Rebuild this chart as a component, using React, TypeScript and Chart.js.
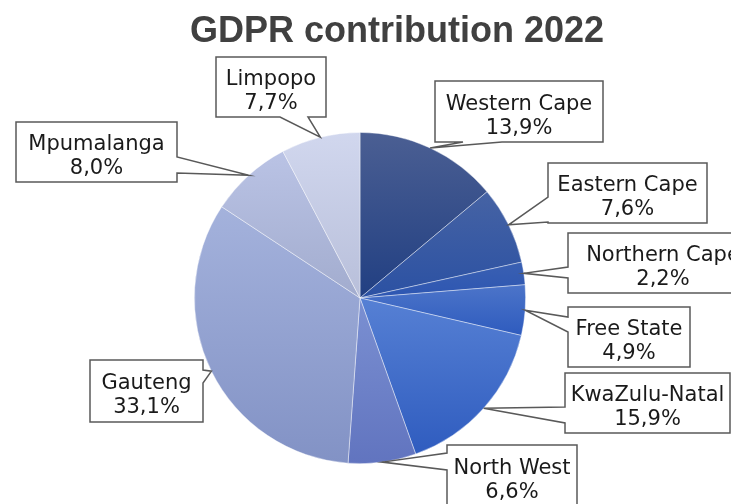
import React, { useEffect, useRef } from "react";
import { Chart, registerables } from "chart.js";

Chart.register(...registerables);

const TITLE = "GDPR contribution 2022";
const REGIONS = [
  "Western Cape",
  "Eastern Cape",
  "Northern Cape",
  "Free State",
  "KwaZulu-Natal",
  "North West",
  "Gauteng",
  "Mpumalanga",
  "Limpopo",
];
const SHARES = [13.9, 7.6, 2.2, 4.9, 15.9, 6.6, 33.1, 8.0, 7.7];

// gradient colours (top, bottom) per slice
const COLORS_TOP = ["#4b5f93", "#4663a4", "#3a60b2", "#4c74c9", "#5680d4", "#7b90d2", "#a4b2dc", "#bac3e5", "#d1d7ee"];
const COLORS_BOTTOM = ["#213f82", "#2b51a3", "#2d56b2", "#2e5bbe", "#2f5cbf", "#6174bf", "#8292c5", "#a2acce", "#b8bfda"];

// callout boxes (page pixels) and which side the pointer leaves from
type Box = { x: number; y: number; w: number; h: number; side: "left" | "right" | "bottom"; a: number; b: number };
const LABEL_BOXES: Box[] = [
  { x: 435, y: 81, w: 168, h: 61, side: "bottom", a: 463, b: 502 },
  { x: 548, y: 163, w: 159, h: 60, side: "left", a: 197, b: 222 },
  { x: 568, y: 233, w: 190, h: 60, side: "left", a: 267, b: 278 },
  { x: 568, y: 307, w: 122, h: 60, side: "left", a: 317, b: 332 },
  { x: 565, y: 373, w: 165, h: 60, side: "left", a: 407, b: 423 },
  { x: 447, y: 445, w: 130, h: 62, side: "left", a: 453, b: 470 },
  { x: 90, y: 360, w: 113, h: 62, side: "right", a: 370, b: 383 },
  { x: 16, y: 122, w: 161, h: 60, side: "right", a: 157, b: 173 },
  { x: 216, y: 57, w: 110, h: 60, side: "bottom", a: 280, b: 308 },
];

const LABEL_FONT = '21px "DejaVu Sans"';
const TITLE_FONT = 'bold 36px "Liberation Sans"';

function sliceGradient(chart: any, index: number) {
  const area = chart.chartArea;
  if (!area) return COLORS_TOP[index];
  const cx = (area.left + area.right) / 2;
  const cy = (area.top + area.bottom) / 2;
  const r = Math.min(area.right - area.left, area.bottom - area.top) / 2;
  const total = SHARES.reduce((s, v) => s + v, 0);
  let cum = 0;
  for (let i = 0; i < index; i++) cum += SHARES[i];
  const a0 = (cum / total) * Math.PI * 2 - Math.PI / 2;
  const a1 = ((cum + SHARES[index]) / total) * Math.PI * 2 - Math.PI / 2;
  const ys = [cy, cy + r * Math.sin(a0), cy + r * Math.sin(a1)];
  for (const k of [-Math.PI / 2, Math.PI / 2, (3 * Math.PI) / 2]) {
    if (k > a0 && k < a1) ys.push(cy + r * Math.sin(k));
  }
  const y0 = Math.min(...ys);
  const y1 = Math.max(...ys);
  const g = chart.ctx.createLinearGradient(0, y0, 0, Math.max(y1, y0 + 1));
  g.addColorStop(0, COLORS_TOP[index]);
  g.addColorStop(1, COLORS_BOTTOM[index]);
  return g;
}

const calloutPlugin = {
  id: "callouts",
  afterDraw(chart: any) {
    const ctx = chart.ctx as CanvasRenderingContext2D;
    const meta = chart.getDatasetMeta(0);
    ctx.save();
    // title
    ctx.font = TITLE_FONT;
    ctx.fillStyle = "#404040";
    ctx.textAlign = "center";
    ctx.textBaseline = "alphabetic";
    ctx.fillText(TITLE, 397, 42);

    meta.data.forEach((arc: any, i: number) => {
      const box = LABEL_BOXES[i];
      if (!box) return;
      const mid = (arc.startAngle + arc.endAngle) / 2;
      const tx = arc.x + Math.cos(mid) * arc.outerRadius;
      const ty = arc.y + Math.sin(mid) * arc.outerRadius;
      const { x, y, w, h, side, a, b } = box;
      ctx.beginPath();
      ctx.moveTo(x, y);
      ctx.lineTo(x + w, y);
      if (side === "right") {
        ctx.lineTo(x + w, a);
        ctx.lineTo(tx, ty);
        ctx.lineTo(x + w, b);
      }
      ctx.lineTo(x + w, y + h);
      if (side === "bottom") {
        ctx.lineTo(b, y + h);
        ctx.lineTo(tx, ty);
        ctx.lineTo(a, y + h);
      }
      ctx.lineTo(x, y + h);
      if (side === "left") {
        ctx.lineTo(x, b);
        ctx.lineTo(tx, ty);
        ctx.lineTo(x, a);
      }
      ctx.closePath();
      ctx.fillStyle = "#ffffff";
      ctx.fill();
      ctx.lineWidth = 1.5;
      ctx.strokeStyle = "#595959";
      ctx.lineJoin = "miter";
      ctx.stroke();

      ctx.font = LABEL_FONT;
      ctx.fillStyle = "#1a1a1a";
      ctx.textAlign = "center";
      ctx.textBaseline = "alphabetic";
      const cxBox = x + w / 2;
      const cyBox = y + h / 2;
      ctx.fillText(REGIONS[i], cxBox, cyBox - 2);
      ctx.fillText(SHARES[i].toFixed(1).replace(".", ",") + "%", cxBox, cyBox + 22);
    });
    ctx.restore();
  },
};

export default function App() {
  const ref = useRef<HTMLCanvasElement | null>(null);
  useEffect(() => {
    if (!ref.current) return;
    const chart = new Chart(ref.current, {
      type: "pie",
      data: {
        labels: REGIONS,
        datasets: [
          {
            data: SHARES,
            backgroundColor: (c: any) => sliceGradient(c.chart, c.dataIndex),
            borderColor: "rgba(255,255,255,0.55)",
            borderWidth: 0.75,
            hoverOffset: 0,
            offset: 0,
          },
        ],
      },
      options: {
        responsive: false,
        animation: false,
        layout: { padding: { left: 194, right: 205, top: 132, bottom: 40 } },
        plugins: { legend: { display: false }, tooltip: { enabled: false }, title: { display: false } },
        events: [],
      },
      plugins: [calloutPlugin],
    });
    return () => chart.destroy();
  }, []);
  return (
    <div style={{ position: "absolute", left: 0, top: 0, width: 731, height: 504, background: "#fff" }}>
      <canvas ref={ref} width={731} height={504} style={{ display: "block", width: 731, height: 504 }} />
    </div>
  );
}
